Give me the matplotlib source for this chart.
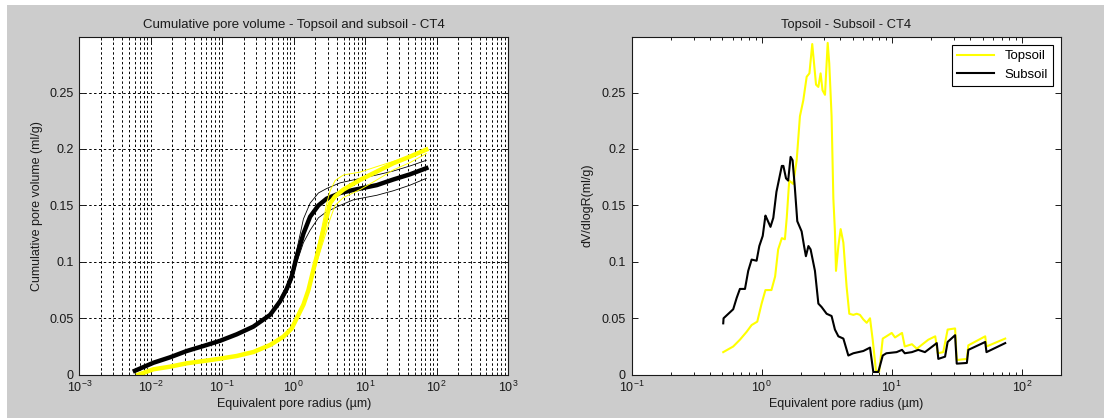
import matplotlib
matplotlib.use("Agg")
import matplotlib.pyplot as plt
from matplotlib.patches import Rectangle
from matplotlib.ticker import LogLocator, FixedLocator, NullFormatter

plt.rcParams['font.family'] = ['Liberation Sans', 'DejaVu Sans']
plt.rcParams['mathtext.fontset'] = 'custom'
plt.rcParams['mathtext.rm'] = 'Liberation Sans'
plt.rcParams['mathtext.it'] = 'Liberation Sans:italic'
plt.rcParams['mathtext.default'] = 'regular'

# ---- Cumulative pore volume (ml/g) vs equivalent pore radius (um) ----
sub_radius = [0.006, 0.0109, 0.0186, 0.0319, 0.0544, 0.093, 0.16, 0.273, 0.468, 0.645,
              0.80, 0.94, 1.1, 1.37, 1.70, 2.22, 2.9, 4.47, 6.85, 14.6, 24.9, 42.7, 72]
sub_mean = [0.0035, 0.0106, 0.0154, 0.021, 0.0254, 0.030, 0.0358, 0.0426, 0.053, 0.065,
            0.076, 0.087, 0.1046, 0.125, 0.140, 0.150, 0.156, 0.161, 0.1637, 0.168,
            0.173, 0.1776, 0.183]
sub_rep_hi = [0.004, 0.011, 0.016, 0.0215, 0.026, 0.0305, 0.0365, 0.0435, 0.054, 0.067,
              0.079, 0.091, 0.110, 0.138, 0.152, 0.161, 0.165, 0.170, 0.1726, 0.177,
              0.1805, 0.185, 0.190]
sub_rep_lo = [0.003, 0.010, 0.0148, 0.0205, 0.0248, 0.0295, 0.035, 0.0418, 0.052, 0.063,
              0.073, 0.083, 0.099, 0.117, 0.128, 0.139, 0.1445, 0.150, 0.155, 0.159,
              0.163, 0.168, 0.174]

top_radius = [0.0067, 0.0109, 0.0186, 0.0319, 0.0544, 0.093, 0.16, 0.273, 0.468, 0.718,
              0.94, 1.105, 1.37, 1.61, 1.99, 2.48, 2.91, 3.24, 3.80, 4.97, 8.5, 14.6,
              24.9, 42.7, 72]
top_mean = [0.0, 0.0048, 0.0071, 0.0101, 0.0121, 0.0142, 0.0166, 0.0201, 0.0263, 0.0337,
            0.041, 0.050, 0.062, 0.075, 0.0988, 0.122, 0.140, 0.152, 0.158, 0.164,
            0.1726, 0.180, 0.1874, 0.1933, 0.1995]
top_rep_hi = [0.0003, 0.005, 0.0074, 0.0104, 0.0124, 0.0146, 0.017, 0.0206, 0.027, 0.0345,
              0.042, 0.052, 0.064, 0.078, 0.103, 0.130, 0.152, 0.163, 0.172, 0.177,
              0.1795, 0.1844, 0.189, 0.194, 0.2007]
top_rep_lo = [0.0, 0.0045, 0.0068, 0.0098, 0.0118, 0.0138, 0.0162, 0.0196, 0.0256, 0.033,
              0.040, 0.048, 0.060, 0.072, 0.094, 0.114, 0.128, 0.138, 0.150, 0.157,
              0.164, 0.1726, 0.1815, 0.188, 0.196]

# ---- Pore size distribution dV/dlogR ----
psd_sub_r = [0.507, 0.51, 0.605, 0.643, 0.681, 0.745, 0.789, 0.838, 0.915, 0.96, 1.02,
             1.07, 1.1, 1.17, 1.23, 1.3, 1.43, 1.47, 1.54, 1.6, 1.67, 1.73, 1.8, 1.88,
             2.03, 2.12, 2.19, 2.29, 2.38, 2.57, 2.73, 2.89, 3.16, 3.45, 3.66, 3.89, 4.25,
             4.64, 5.07, 6.05, 6.81, 7.22, 7.89, 8.53, 9.1, 10.9, 12.0, 12.6, 14.3, 16.0,
             18.0, 22.2, 22.8, 25.7, 26.9, 30.7, 31.6, 37.8, 38.8, 52.3, 53.5, 74.5]
psd_sub = [0.0455, 0.05, 0.058, 0.068, 0.076, 0.076, 0.092, 0.102, 0.101, 0.114, 0.123,
           0.141, 0.138, 0.131, 0.139, 0.162, 0.185, 0.185, 0.174, 0.172, 0.193, 0.19,
           0.166, 0.136, 0.127, 0.114, 0.105, 0.114, 0.111, 0.092, 0.063, 0.060, 0.054,
           0.052, 0.040, 0.034, 0.032, 0.017, 0.019, 0.021, 0.024, 0.0024, 0.0024, 0.017,
           0.019, 0.020, 0.022, 0.019, 0.020, 0.022, 0.020, 0.028, 0.014, 0.016, 0.029,
           0.035, 0.0098, 0.0104, 0.022, 0.029, 0.020, 0.028]

psd_top_r = [0.507, 0.605, 0.681, 0.767, 0.838, 0.926, 1.0, 1.07, 1.19, 1.27, 1.34, 1.43,
             1.51, 1.56, 1.63, 1.75, 1.86, 1.97, 2.09, 2.22, 2.33, 2.45, 2.62, 2.73, 2.84,
             2.94, 3.07, 3.22, 3.31, 3.45, 3.56, 3.66, 3.73, 3.89, 4.05, 4.25, 4.5, 4.72,
             5.07, 5.38, 5.7, 6.05, 6.42, 6.81, 7.14, 7.56, 8.0, 8.53, 9.1, 10.0, 10.6,
             12.0, 12.6, 14.3, 15.6, 19.1, 21.6, 22.6, 24.9, 26.9, 30.7, 31.6, 37.8, 38.8,
             52.3, 53.5, 74.5]
psd_top = [0.020, 0.025, 0.031, 0.038, 0.044, 0.047, 0.063, 0.075, 0.075, 0.087, 0.111,
           0.121, 0.120, 0.139, 0.172, 0.169, 0.19, 0.229, 0.243, 0.264, 0.267, 0.293,
           0.257, 0.255, 0.267, 0.252, 0.248, 0.294, 0.276, 0.229, 0.156, 0.127, 0.092,
           0.114, 0.129, 0.117, 0.078, 0.054, 0.053, 0.054, 0.053, 0.049, 0.046, 0.050,
           0.031, 0.004, 0.0024, 0.032, 0.034, 0.037, 0.033, 0.037, 0.025, 0.027, 0.023,
           0.031, 0.034, 0.019, 0.020, 0.040, 0.041, 0.013, 0.014, 0.026, 0.034, 0.025,
           0.032]

y_ticks = [0, 0.05, 0.1, 0.15, 0.2, 0.25]
y_tick_labels = ['0', '0.05', '0.1', '0.15', '0.2', '0.25']
x_ticks_cum = [1e-3, 1e-2, 1e-1, 1e0, 1e1, 1e2, 1e3]
x_ticks_psd = [1e-1, 1e0, 1e1, 1e2]

YELLOW = '#FFFF00'
BG = '#CCCCCC'
INK = '#1A1A1A'

fig = plt.figure(figsize=(11.04, 4.18), dpi=100, facecolor='white')
fig.patches.append(Rectangle((7 / 1104, 0), 1, 1 - 5 / 418, transform=fig.transFigure,
                             facecolor=BG, edgecolor='none', zorder=-10))

ax1 = fig.add_axes([79.3 / 1104, 43.3 / 418, 428.7 / 1104, 338 / 418])
ax2 = fig.add_axes([631.5 / 1104, 43.3 / 418, 429.5 / 1104, 338 / 418])


def style_axes(ax, xlim, xticks):
    ax.set_xscale('log')
    ax.set_xlim(*xlim)
    ax.set_ylim(0, 0.2995)
    ax.set_yticks(y_ticks)
    ax.set_yticklabels(y_tick_labels)
    ax.xaxis.set_major_locator(FixedLocator(xticks))
    ax.xaxis.set_minor_locator(LogLocator(base=10, subs=range(2, 10), numticks=20))
    ax.xaxis.set_minor_formatter(NullFormatter())
    ax.tick_params(which='both', direction='in', top=True, right=True, labelsize=9,
                   width=0.7, colors=INK, labelcolor=INK, pad=4)
    ax.tick_params(which='major', length=4.5)
    ax.tick_params(which='minor', length=2.5)
    for s in ax.spines.values():
        s.set_linewidth(0.8)
        s.set_color(INK)
    ax.set_xlabel('Equivalent pore radius (µm)', fontsize=9, labelpad=2, color=INK)


# Left: cumulative curves with replicates
style_axes(ax1, (1e-3, 1e3), x_ticks_cum)
ax1.grid(True, which='major', axis='both', color='black', linestyle=(0, (2.5, 2.5)),
         linewidth=0.7)
ax1.grid(True, which='minor', axis='x', color='black', linestyle=(0, (2.5, 2.5)),
         linewidth=0.7)
ax1.set_axisbelow(True)
ax1.plot(sub_radius, sub_rep_hi, color='black', linewidth=0.6)
ax1.plot(sub_radius, sub_rep_lo, color='black', linewidth=0.6)
ax1.plot(sub_radius, sub_mean, color='black', linewidth=3.2)
ax1.plot(top_radius, top_rep_hi, color=YELLOW, linewidth=0.7)
ax1.plot(top_radius, top_rep_lo, color=YELLOW, linewidth=0.7)
ax1.plot(top_radius, top_mean, color=YELLOW, linewidth=3.2)
ax1.set_title('Cumulative pore volume - Topsoil and subsoil - CT4', fontsize=9.5,
              pad=6, color=INK)
ax1.set_ylabel('Cumulative pore volume (ml/g)', fontsize=9, labelpad=5, color=INK)

# Right: pore size distribution
style_axes(ax2, (0.1, 200), x_ticks_psd)
ax2.plot(psd_top_r, psd_top, color=YELLOW, linewidth=1.5, label='Topsoil')
ax2.plot(psd_sub_r, psd_sub, color='black', linewidth=1.5, label='Subsoil')
ax2.set_title('Topsoil - Subsoil - CT4', fontsize=9.3, pad=6, color=INK)
ax2.set_ylabel('dV/dlogR(ml/g)', fontsize=9, labelpad=6, color=INK)
leg = ax2.legend(loc='upper right', fontsize=9.5, fancybox=False, framealpha=1,
                 edgecolor='black', handlelength=2.8, borderaxespad=0.6,
                 borderpad=0.4, labelspacing=0.5)
leg.get_frame().set_linewidth(0.8)

fig.savefig('out.png', dpi=100, facecolor=fig.get_facecolor())
